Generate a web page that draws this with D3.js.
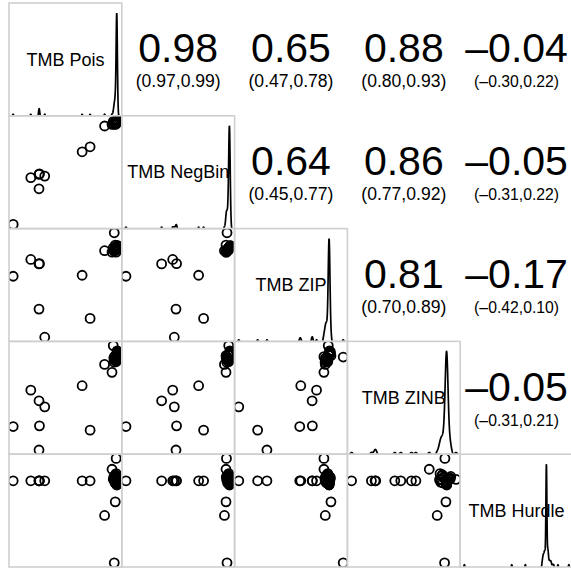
<!DOCTYPE html>
<html>
<head>
<meta charset="utf-8">
<script src="https://cdn.jsdelivr.net/npm/d3@7"></script>
<style>
body { margin: 0; background: #fff; }
svg { display: block; font-family: "Liberation Sans", Arial, Helvetica, sans-serif; }
</style>
</head>
<body>
<div id="viz"></div>
<script>
var labels = ["TMB Pois", "TMB NegBin", "TMB ZIP", "TMB ZINB", "TMB Hurdle"];

// per-sample estimates: first 14 are the spread-out samples, the rest is the tight cluster
var tmbPois = [
    .938, .852, .195, .268, .038, .652, .268, .723, .319, .272, .918, .955, .947, .929,
    .960, .959, .961, .960, .9595, .9605, .960, .959, .961, .960,
    .960, .959, .961, .9595, .9605, .960, .9585, .9615, .960, .9592,
    .9608, .960, .9598, .9602, .961, .959, .960, .9605, .9595, .960,
    .952, .945, .938, .949, .942, .955, .934, .947, .951, .965, .968, .964, .967, .966
];
var tmbNegBin = [
    .935, .912, .455, .357, .042, .684, .484, .728, .469, .489, .926, .930, .926, .950,
    .956, .955, .957, .956, .9555, .9565, .956, .955, .957, .956,
    .956, .955, .957, .9555, .9565, .956, .9545, .9575, .956, .9552,
    .9568, .956, .9558, .9562, .957, .955, .956, .9565, .9555, .956,
    .948, .940, .932, .945, .936, .950, .928, .943, .947, .961, .965, .960, .964, .963
];
var tmbZIP = [
    .958, .800, .723, .684, .575, .584, .286, .204, .038, .686, .788, .788, .850, .826,
    .833, .832, .834, .833, .8325, .8335, .833, .832, .834, .833,
    .833, .832, .834, .8325, .8335, .833, .8315, .8345, .833, .8322,
    .8338, .833, .8328, .8332, .834, .832, .833, .8335, .8325, .833,
    .805, .812, .798, .818, .808, .822, .801, .815, .810, .840, .845, .838, .842, .837
];
var tmbZINB = [
    .855, .790, .563, .469, .242, .602, .035, .210, .416, .248, .720, .858, .867, .956,
    .873, .872, .874, .873, .8725, .8735, .873, .872, .874, .873,
    .873, .872, .874, .8725, .8735, .873, .8715, .8745, .873, .8722,
    .8738, .873, .8728, .8732, .874, .872, .873, .8735, .8725, .873,
    .820, .840, .810, .850, .830, .815, .845, .835, .825, .890, .900, .910, .895, .905
];
var tmbHurdle = [
    .040, .454, .757, .757, .757, .757, .757, .757, .757, .757, .858, .953, .573, .770,
    .757, .756, .758, .757, .7565, .7575, .757, .756, .758, .757,
    .757, .756, .758, .7565, .7575, .757, .7555, .7585, .757, .7562,
    .720, .740, .728, .745, .732, .748, .724, .736, .742, .730, .746, .738,
    .766, .780, .800, .820, .790, .810, .770, .775, .785, .795, .768, .772
];

// upper panels, row by row
var corText = ["0.98", "0.65", "0.88", "\u20130.04", "0.64", "0.86", "\u20130.05", "0.81", "\u20130.17", "\u20130.05"];
var ciText = ["(0.97,0.99)", "(0.47,0.78)", "(0.80,0.93)", "(\u20130.30,0.22)",
    "(0.45,0.77)", "(0.77,0.92)", "(\u20130.31,0.22)",
    "(0.70,0.89)", "(\u20130.42,0.10)",
    "(\u20130.31,0.21)"];

var vars = [tmbPois, tmbNegBin, tmbZIP, tmbZINB, tmbHurdle],
    n = tmbPois.length,
    size = 112.8,
    origin = { left: 9, top: 3 };

var svg = d3.select('#viz').append('svg')
    .attr('width', 571)
    .attr('height', 569);

svg.append('defs').append('clipPath')
    .attr('id', 'cellClip')
    .append('rect')
    .attr('width', size)
    .attr('height', size);

// same range for x and y of a variable, 4% padding like base R
var xScales = vars.map(function (v) {
    var ext = d3.extent(v),
        pad = (ext[1] - ext[0]) * 0.04;
    return d3.scaleLinear().domain([ext[0] - pad, ext[1] + pad]).range([0, size]);
});
var yScales = xScales.map(function (s) {
    return s.copy().range([size, 0]);
});

// gaussian kde, bw.nrd0
function density(v, dom) {
    var s = v.slice().sort(d3.ascending);
    var iqr = d3.quantileSorted(s, 0.75) - d3.quantileSorted(s, 0.25);
    var bw = 0.9 * Math.min(d3.deviation(s), iqr / 1.34) * Math.pow(s.length, -0.2);
    return d3.range(1601).map(function (k) {
        var x = dom[0] + k * (dom[1] - dom[0]) / 1600;
        var y = d3.mean(s, function (xi) {
            var z = (x - xi) / bw;
            return Math.exp(-z * z / 2);
        }) / (bw * Math.sqrt(2 * Math.PI));
        return [x, y];
    });
}

var ci = 0;
for (var i = 0; i < 5; i++) {
    for (var j = 0; j < 5; j++) {
        var cell = svg.append('g')
            .attr('transform', 'translate(' + (origin.left + j * size) + ',' + (origin.top + i * size) + ')');

        if (j < i) {
            // scatter
            (function (i, j) {
                cell.append('g')
                    .attr('clip-path', 'url(#cellClip)')
                    .selectAll('circle').data(d3.range(n))
                    .enter().append('circle')
                    .attr('cx', function (k) { return xScales[j](vars[j][k]); })
                    .attr('cy', function (k) { return yScales[i](vars[i][k]); })
                    .attr('r', 4.5)
                    .attr('fill', 'none')
                    .attr('stroke', '#000')
                    .attr('stroke-width', 1.8);
            })(i, j);
        } else if (j === i) {
            var dens = density(vars[i], xScales[i].domain());
            var yDens = d3.scaleLinear()
                .domain([0, d3.max(dens, function (d) { return d[1]; })])
                .range([size + 1.5, 10]);
            var x = xScales[i];
            cell.append('g')
                .attr('clip-path', 'url(#cellClip)')
                .append('path')
                .datum(dens)
                .attr('fill', 'none')
                .attr('stroke', '#000')
                .attr('stroke-width', 1.7)
                .attr('d', d3.line()
                    .x(function (d) { return x(d[0]); })
                    .y(function (d) { return yDens(d[1]); }));
            cell.append('text')
                .attr('x', size / 2)
                .attr('y', size / 2 + 6.3)
                .attr('text-anchor', 'middle')
                .style('font-size', '18px')
                .text(labels[i]);
        } else {
            cell.append('text')
                .attr('x', size / 2)
                .attr('y', size / 2 + 3)
                .attr('text-anchor', 'middle')
                .style('font-size', '41px')
                .text(corText[ci]);
            var t = cell.append('text')
                .attr('x', size / 2)
                .attr('y', size / 2 + 28)
                .attr('text-anchor', 'middle')
                .style('font-size', '17.5px')
                .text(ciText[ci]);
            // shrink to a fixed width, like cex = k / strwidth
            var len = t.node().getComputedTextLength();
            t.style('font-size', (17.5 * 85 / len) + 'px');
            ci++;
        }

        if (j <= i) {
            cell.append('rect')
                .attr('width', size)
                .attr('height', size)
                .attr('fill', 'none')
                .attr('stroke', '#cfcfcf')
                .attr('stroke-width', 1.6);
        }
    }
}
</script>
</body>
</html>
